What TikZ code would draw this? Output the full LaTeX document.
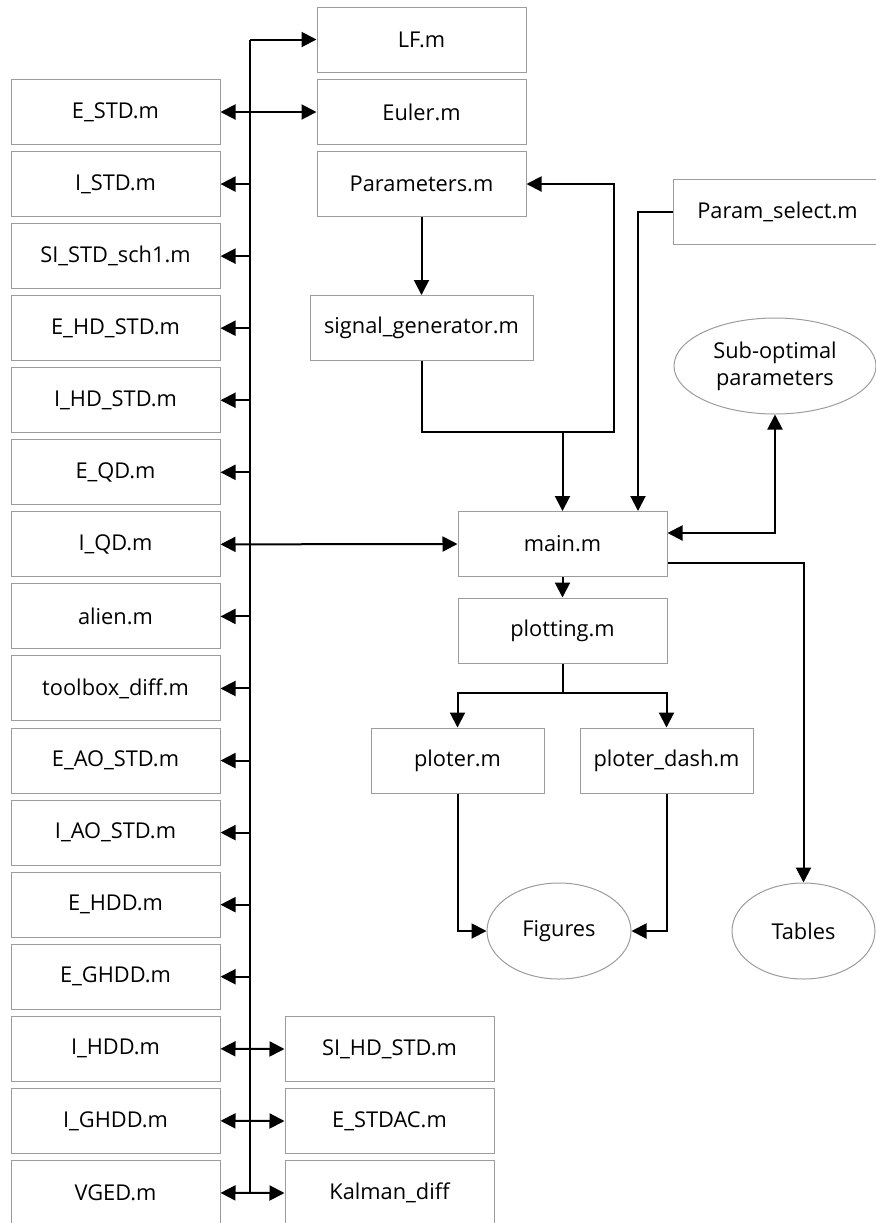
\documentclass[tikz,border=0pt]{standalone}
\usepackage{fontspec}
\setmainfont{Open Sans}
\usetikzlibrary{positioning, arrows.meta, shapes.geometric, calc}
\definecolor{borde}{HTML}{9C9C9C}
\definecolor{trazo}{HTML}{000000}

\begin{document}
\begin{tikzpicture}[x=0.5pt, y=-0.5pt, font=\fontsize{10.9}{13.5}\selectfont,
		filebox/.style={draw=borde, line width=0.5pt, minimum width=104.5pt,
		                minimum height=32.5pt, inner sep=0pt},
		outbox/.style={ellipse, draw=borde, line width=0.5pt, inner sep=0pt, align=center},
		conn/.style={draw=trazo, line width=1pt},
		arr/.style={conn, -{Triangle[length=7.5pt, width=7.5pt]}},
		arrboth/.style={conn, {Triangle[length=7.5pt, width=7.5pt]}-{Triangle[length=7.5pt, width=7.5pt]}}]
	\useasboundingbox (0,0) rectangle (875,1223);

	% left column
	\foreach \nm/\t [count=\i from 0] in {estd/E\_STD.m, istd/I\_STD.m, sistd/SI\_STD\_sch1.m,
	        ehdstd/E\_HD\_STD.m, ihdstd/I\_HD\_STD.m, eqd/E\_QD.m, iqd/I\_QD.m, alien/alien.m,
	        tbdiff/toolbox\_diff.m, eaostd/E\_AO\_STD.m, iaostd/I\_AO\_STD.m, ehdd/E\_HDD.m,
	        eghdd/E\_GHDD.m, ihdd/I\_HDD.m, ighdd/I\_GHDD.m, vged/VGED.m} {
		\node[filebox] (\nm) at (115.5, 112+72.06*\i) {\t};
	}

	% middle column
	\node[filebox] (lf) at (421.5, 39.5) {LF.m};
	\node[filebox] (euler) at (421.5, 112) {Euler.m};
	\node[filebox] (params) at (421.5, 184) {Parameters.m};
	\node[filebox, minimum width=111.5pt] (siggen) at (421.5, 328) {signal\_generator.m};
	\node[filebox] (sihdstd) at (389.5, 1049) {SI\_HD\_STD.m};
	\node[filebox] (estdac) at (389.5, 1121) {E\_STDAC.m};
	\node[filebox] (kalman) at (389.5, 1193) {Kalman\_diff};

	% right part
	\node[filebox] (psel) at (777.5, 212) {Param\_select.m};
	\node[outbox, minimum width=101pt, minimum height=48pt] (subopt) at (775, 366) {Sub-optimal\\parameters};
	\node[filebox] (main) at (562.5, 544) {main.m};
	\node[filebox] (plotting) at (562.5, 630.5) {plotting.m};
	\node[filebox, minimum width=86.5pt] (ploter) at (457.5, 760.5) {ploter.m};
	\node[filebox, minimum width=86.5pt] (pdash) at (666.5, 760.5) {ploter\_dash.m};
	\node[outbox, minimum width=72pt, minimum height=48pt] (figures) at (559, 931) {Figures};
	\node[outbox, minimum width=71.5pt, minimum height=48pt] (tables) at (803.5, 931) {Tables};

	% bus
	\coordinate (bustop) at (250, 39.5);
	\coordinate (busbot) at (250, 1193);
	\draw[conn] (bustop) -- (busbot);
	\draw[arr] (bustop) -- (lf.west);
	\foreach \nm in {istd, sistd, ehdstd, ihdstd, eqd, alien, tbdiff, eaostd, iaostd, ehdd, eghdd}
		\draw[arr] (bustop |- \nm.east) -- (\nm.east);
	\draw[arrboth] (estd.east) -- (euler.west);
	\draw[arrboth] (iqd.east) -- (main.west);
	\draw[arrboth] (ihdd.east) -- (sihdstd.west);
	\draw[arrboth] (ighdd.east) -- (estdac.west);
	\draw[arrboth] (vged.east) -- (kalman.west);

	% parameters and signal
	\coordinate (sgturn) at (614, 432);
	\draw[arr] (params.south) -- (siggen.north);
	\draw[arr] (siggen.south) |- (sgturn) |- (params.east);
	\draw[arr] (main.north |- sgturn) -- (main.north);
	\draw[arr] (psel.west) -| ([xshift=37.75pt]main.north);
	\draw[arrboth] ([yshift=5.5pt]main.east) -| (subopt.south);
	\draw[arr] ([yshift=-9.5pt]main.east) -| (tables.north);

	% plotting
	\coordinate (split) at (562.5, 693);
	\draw[arr] (main.south) -- (plotting.north);
	\draw[conn] (plotting.south) -- (split);
	\draw[arr] (split) -| (ploter.north);
	\draw[arr] (split) -| (pdash.north);
	\draw[arr] (ploter.south) |- (figures.west);
	\draw[arr] (pdash.south) |- (figures.east);
\end{tikzpicture}
\end{document}
